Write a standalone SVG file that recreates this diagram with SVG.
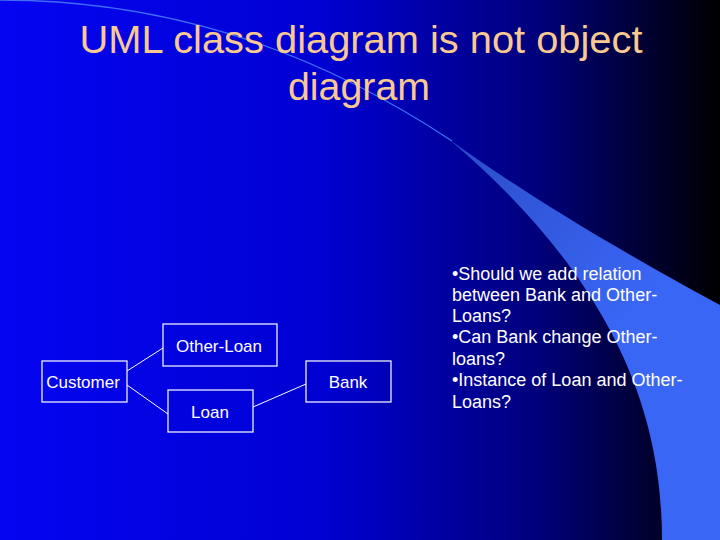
<svg xmlns="http://www.w3.org/2000/svg" width="720" height="540" viewBox="0 0 720 540">
  <defs>
    <linearGradient id="bg" x1="0" y1="0" x2="1" y2="0">
      <stop offset="0" stop-color="#0505f2"/>
      <stop offset="0.45" stop-color="#0000d2"/>
      <stop offset="0.75" stop-color="#00007a"/>
      <stop offset="1" stop-color="#000000"/>
    </linearGradient>
    <linearGradient id="sw" x1="450" y1="140" x2="620" y2="320" gradientUnits="userSpaceOnUse">
      <stop offset="0" stop-color="#2a4cc8"/>
      <stop offset="1" stop-color="#3a66f5"/>
    </linearGradient>
    <style>
      .title { font-family: "Liberation Sans", Arial, sans-serif; font-size: 38px; fill: #f9c992; text-anchor: middle; }
      .box { fill: none; stroke: #ffffff; stroke-width: 1.2; }
      .lbl { font-family: "Liberation Sans", Arial, sans-serif; font-size: 17px; fill: #ffffff; text-anchor: middle; }
      .conn { stroke: #ffffff; stroke-width: 1; fill: none; }
      .bul { font-family: "Liberation Sans", Arial, sans-serif; font-size: 18px; fill: #ffffff; }
    </style>
  </defs>

  <rect x="0" y="0" width="720" height="540" fill="url(#bg)"/>
  <path d="M0,0 C150,0 300,40 452,141" fill="none" stroke="#3f6ef5" stroke-width="1.3"/>
  <path d="M450,140 C520,190 600,240 720,305 L720,540 L662,540 C662,430 628,292 450,140 Z" fill="url(#sw)"/>

  <g id="title">
    <text class="title" x="361" y="53" textLength="563" lengthAdjust="spacingAndGlyphs">UML class diagram is not object</text>
    <text class="title" x="359" y="100" textLength="142" lengthAdjust="spacingAndGlyphs">diagram</text>
  </g>

  <g id="connectors">
    <line class="conn" x1="127" y1="371" x2="163" y2="348"/>
    <line class="conn" x1="127" y1="385" x2="168" y2="414"/>
    <line class="conn" x1="253" y1="407" x2="306" y2="384"/>
  </g>

  <g id="customer">
    <rect class="box" x="42" y="361" width="85" height="41"/>
    <text class="lbl" x="83" y="388">Customer</text>
  </g>
  <g id="other-loan">
    <rect class="box" x="163" y="324" width="114" height="42"/>
    <text class="lbl" x="219" y="352">Other-Loan</text>
  </g>
  <g id="loan">
    <rect class="box" x="168" y="390" width="85" height="42"/>
    <text class="lbl" x="210" y="418">Loan</text>
  </g>
  <g id="bank">
    <rect class="box" x="306" y="361" width="85" height="41"/>
    <text class="lbl" x="348" y="388">Bank</text>
  </g>

  <g id="notes">
    <text class="bul" x="452" y="280">•Should we add relation</text>
    <text class="bul" x="452" y="301">between Bank and Other-</text>
    <text class="bul" x="452" y="322">Loans?</text>
    <text class="bul" x="452" y="343">•Can Bank change Other-</text>
    <text class="bul" x="452" y="365">loans?</text>
    <text class="bul" x="452" y="386">•Instance of Loan and Other-</text>
    <text class="bul" x="452" y="408">Loans?</text>
  </g>
</svg>
